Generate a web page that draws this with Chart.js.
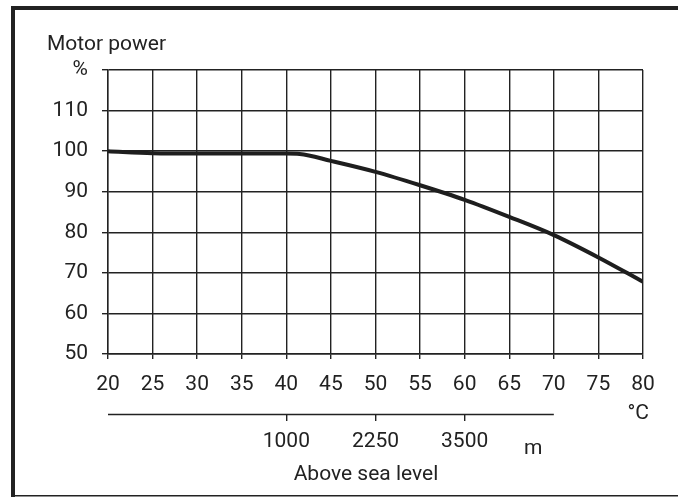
<!DOCTYPE html>
<html>
<head>
<meta charset="utf-8">
<script src="https://cdn.jsdelivr.net/npm/chart.js@4"></script>
<style>
  html, body { margin: 0; padding: 0; background: #fff; }
  canvas { display: block; }
</style>
</head>
<body>
<canvas id="deratingChart" width="678" height="497"></canvas>
<script>
// Derating curve
const temperatures = [20, 25, 30, 35, 40, 41.5, 45, 50, 55, 60, 65, 70, 75, 80];
const motorPower  = [100, 99.5, 99.4, 99.4, 99.4, 99.3, 97.6, 94.9, 91.6, 88.0, 83.8, 79.3, 73.8, 67.8];

// Altitude scale under the temperature scale (1000 m at 40 °C, 3500 m at 60 °C)
const altitudeTicks = [1000, 2250, 3500];
const altitudeMin = -1500;   // matches 20 °C
const altitudeMax = 6000;    // matches 80 °C
const altitudeLineEnd = 70;  // altitude line stops at 70 °C

const INK = '#222';
const FONT = 'Roboto';
const SIZE = 21;

// Frame, extra labels and the short altitude line
const extras = {
    id: 'extras',
    afterDraw(chart) {
        const ctx = chart.ctx;
        const x = chart.scales.x;
        const alt = chart.scales.alt;
        ctx.save();
        ctx.fillStyle = INK;
        // frame
        ctx.fillRect(11, 6, 4, 491);
        ctx.fillRect(11, 6, 667, 4);
        ctx.fillRect(11, 495, 667, 1.5);

        // altitude axis line
        ctx.strokeStyle = INK;
        ctx.lineWidth = 1.5;
        ctx.beginPath();
        ctx.moveTo(x.getPixelForValue(20), alt.top + 0.5);
        ctx.lineTo(x.getPixelForValue(altitudeLineEnd), alt.top + 0.5);
        ctx.stroke();

        ctx.font = SIZE + 'px ' + FONT;
        ctx.textBaseline = 'alphabetic';
        ctx.textAlign = 'left';
        ctx.fillText('Motor power', 47, 50);

        ctx.textAlign = 'right';
        ctx.fillText('°C', x.right + 6, 419);

        ctx.textAlign = 'left';
        ctx.fillText('m', 524, 454);

        ctx.textAlign = 'center';
        ctx.fillText('Above sea level', 366, 480);
        ctx.restore();
    }
};

function init() {
    const ctx = document.getElementById('deratingChart').getContext('2d');
    new Chart(ctx, {
        type: 'line',
        data: {
            datasets: [{
                data: temperatures.map((t, i) => ({ x: t, y: motorPower[i] })),
                borderColor: '#1e1e1e',
                borderWidth: 4,
                pointRadius: 0,
                cubicInterpolationMode: 'monotone',
                xAxisID: 'x',
                yAxisID: 'y'
            }]
        },
        options: {
            responsive: false,
            animation: false,
            devicePixelRatio: 1,
            layout: { padding: { left: 0, right: 35, top: 70, bottom: 0 } },
            plugins: { legend: { display: false }, tooltip: { enabled: false } },
            scales: {
                x: {
                    type: 'linear',
                    position: 'bottom',
                    min: 20, max: 80,
                    weight: 0,
                    afterFit: s => { s.height = 60; },
                    ticks: { stepSize: 5, color: INK, padding: 13, maxRotation: 0,
                             font: { family: FONT, size: SIZE } },
                    grid: { color: INK, lineWidth: 1.4, tickLength: 5 },
                    border: { color: INK, width: 1.4 }
                },
                alt: {
                    type: 'linear',
                    position: 'bottom',
                    min: altitudeMin, max: altitudeMax,
                    weight: 1,
                    afterFit: s => { s.height = 83; },
                    afterBuildTicks: s => { s.ticks = altitudeTicks.map(v => ({ value: v })); },
                    ticks: { color: INK, padding: 8, maxRotation: 0, autoSkip: false,
                             font: { family: FONT, size: SIZE },
                             callback: v => String(v) },
                    grid: { drawOnChartArea: false, color: INK, lineWidth: 1.4, tickLength: 7 },
                    border: { display: false }
                },
                y: {
                    min: 50, max: 120,
                    afterFit: s => { s.width = 108; },
                    ticks: {
                        stepSize: 10, color: INK, padding: 14,
                        font: { family: FONT, size: SIZE },
                        callback: v => (v === 120 ? '%' : v)
                    },
                    grid: { color: INK, lineWidth: 1.4, tickLength: 6 },
                    border: { color: INK, width: 1.4 }
                }
            }
        },
        plugins: [extras]
    });
}

window.onload = init;
</script>
</body>
</html>
